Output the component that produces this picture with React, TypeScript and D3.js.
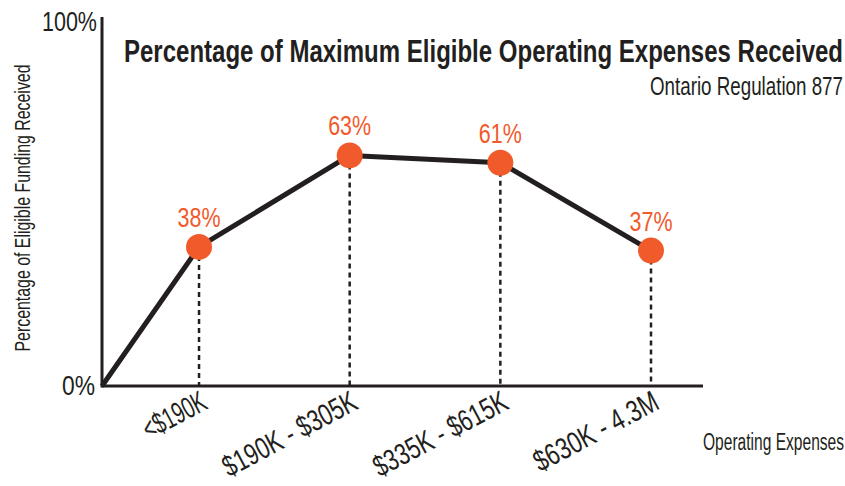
import React from "react";
import * as d3 from "d3";

const categories = ["<$190K", "$190K - $305K", "$335K - $615K", "$630K - 4.3M"];
const values = [38, 63, 61, 37];
const yTicks = [0, 100];

const W = 845, H = 486;
const FONT = "'Liberation Sans Narrow', 'Liberation Sans', 'DejaVu Sans', sans-serif";
const ORANGE = "#F15A2B";
const DARK = "#231F20";

const catLen: Record<string, number> = { "<$190K": 68, "$190K - $305K": 148, "$335K - $615K": 148, "$630K - 4.3M": 137 };

export default function App() {
  const x0 = 102, y0 = 386;
  const y = d3.scaleLinear().domain([0, 100]).range([y0, 20]);
  const x = d3.scaleLinear().domain([-0.644, 3]).range([x0, 651]);
  const pts: [number, number][] = [[x(-0.644), y(0)], ...values.map((v, i) => [x(i), y(v)] as [number, number])];
  const line = d3.line()(pts) || "";
  return (
    <svg width={W} height={H} style={{ position: "absolute", left: 0, top: 0, background: "#fff" }}>
      <g fontFamily={FONT} fill={DARK}>
        <line x1={x0} y1={17} x2={x0} y2={y0 + 1.5} stroke={DARK} strokeWidth={3} />
        <line x1={x0} y1={y0} x2={703} y2={y0} stroke={DARK} strokeWidth={3} />
        {yTicks.map((t) => (
          <text key={t} x={t === 0 ? 62 : 42} y={t === 0 ? 395 : 31} fontSize={28}
            textLength={t === 0 ? 33 : 55} lengthAdjust="spacingAndGlyphs">{t}%</text>
        ))}
        <text transform={`translate(30,${208}) rotate(-90)`} textAnchor="middle" fontSize={22}
          textLength={287} lengthAdjust="spacingAndGlyphs">Percentage of Eligible Funding Received</text>
        {values.map((v, i) => (
          <line key={i} x1={x(i)} x2={x(i)} y1={y(v)} y2={y0} stroke={DARK} strokeWidth={2.5} strokeDasharray="5,4" />
        ))}
        <path d={line} fill="none" stroke={DARK} strokeWidth={5} strokeLinejoin="round" />
        {values.map((v, i) => (
          <circle key={i} cx={x(i)} cy={y(v)} r={13} fill={ORANGE} />
        ))}
        {values.map((v, i) => (
          <text key={i} x={x(i) - 21.5} y={y(v) - 20} fontSize={28} fill={ORANGE}
            textLength={43} lengthAdjust="spacingAndGlyphs">{v}%</text>
        ))}
        {categories.map((c, i) => (
          <g key={c} transform={`translate(${x(i) + 10},${y0 + 22}) rotate(-28)`}>
            <text x={-catLen[c]} y={0} fontSize={30} textLength={catLen[c]} lengthAdjust="spacingAndGlyphs">{c}</text>
          </g>
        ))}
        <text x={703} y={450} fontSize={23} textLength={141} lengthAdjust="spacingAndGlyphs">Operating Expenses</text>
        <text x={124} y={62} fontSize={31} fontWeight={700} textLength={719} lengthAdjust="spacingAndGlyphs">Percentage of Maximum Eligible Operating Expenses Received</text>
        <text x={650} y={95} fontSize={26} textLength={193} lengthAdjust="spacingAndGlyphs">Ontario Regulation 877</text>
      </g>
    </svg>
  );
}
